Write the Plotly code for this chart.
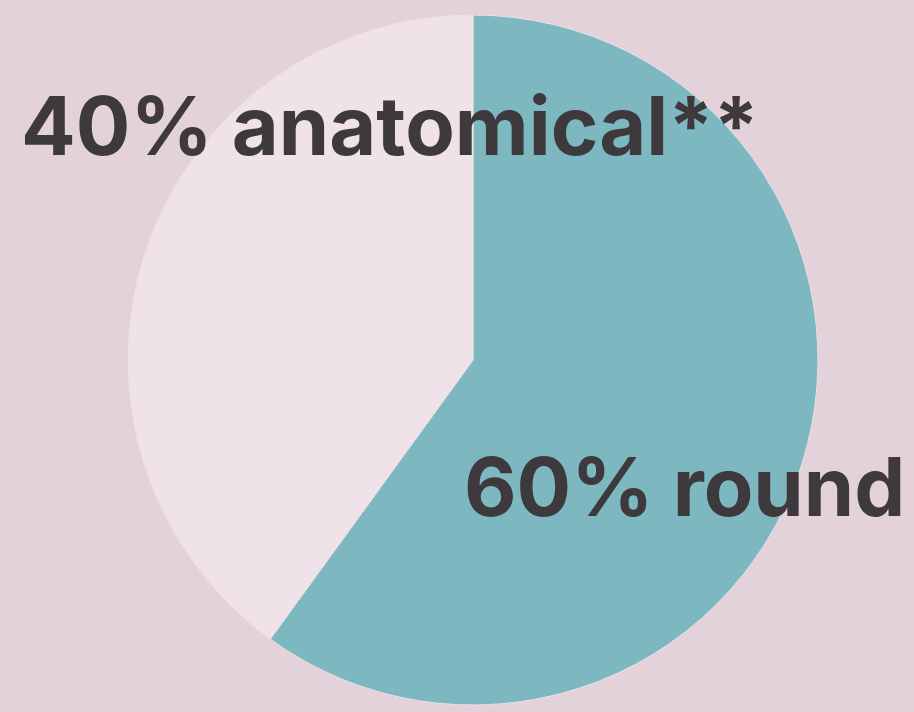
import plotly.graph_objects as go

labels = ["round", "anatomical**"]
values = [60, 40]
colors = ["#7db8c0", "#efe2e8"]

W, H = 914, 712
cx, cy, r = 473, 360, 345

fig = go.Figure(go.Pie(
    labels=labels,
    values=values,
    sort=False,
    direction="clockwise",
    rotation=0,
    textinfo="none",
    hoverinfo="label+percent",
    marker=dict(colors=colors, line=dict(color="#eddfe5", width=1)),
    domain=dict(x=[(cx - r) / W, (cx + r) / W],
                y=[(H - cy - r) / H, (H - cy + r) / H]),
    showlegend=False,
))

total = sum(values)
txt = [f"{round(v / total * 100)}% {l}" for l, v in zip(labels, values)]

font = dict(family="Inter", size=81, color="#3d393c", weight="bold")
fig.add_annotation(text=txt[1], x=19 / W, y=(H - 126) / H, xref="paper", yref="paper",
                   xanchor="left", yanchor="middle", showarrow=False, font=font)
fig.add_annotation(text=txt[0], x=907 / W, y=(H - 487) / H, xref="paper", yref="paper",
                   xanchor="right", yanchor="middle", showarrow=False, font=font)

fig.update_layout(
    width=W, height=H,
    margin=dict(l=0, r=0, t=0, b=0),
    paper_bgcolor="#e4d2da",
    plot_bgcolor="#e4d2da",
)

fig.write_html("out.html", config={"displayModeBar": False},
               post_script="document.body.style.margin='0';document.body.style.background='#e4d2da';")
